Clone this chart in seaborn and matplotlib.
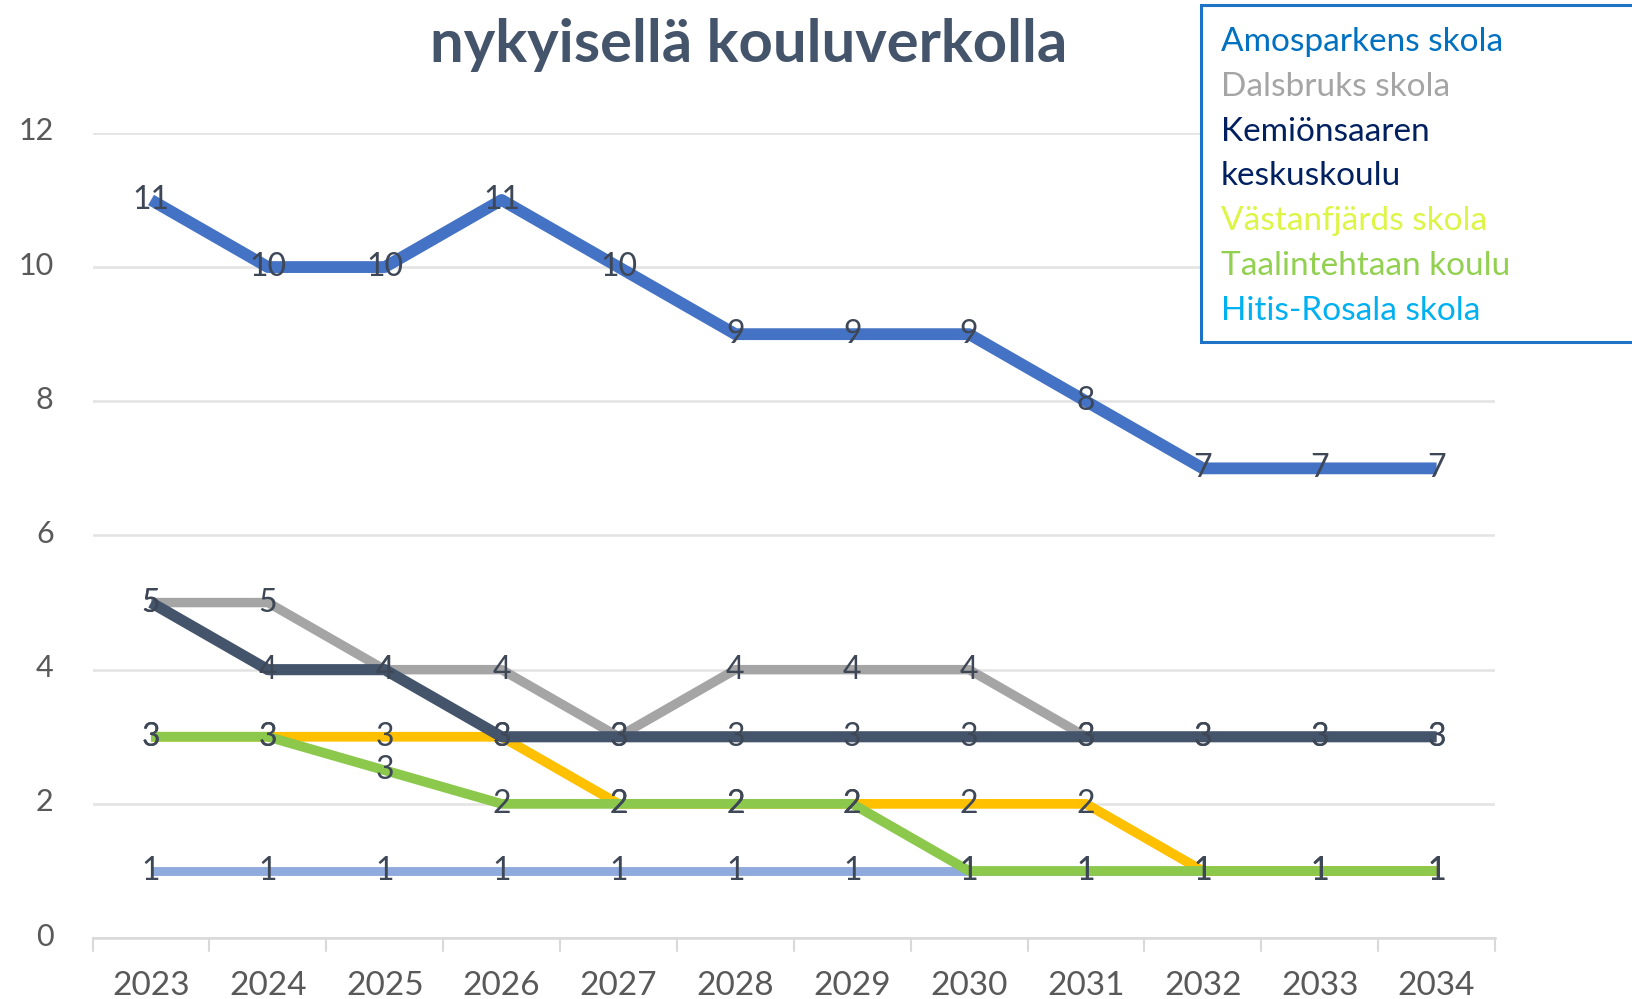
import matplotlib
matplotlib.use("Agg")
import matplotlib.pyplot as plt
from matplotlib.patches import Rectangle
from matplotlib.transforms import ScaledTranslation
import numpy as np
import pandas as pd
import seaborn as sns

years = [2023, 2024, 2025, 2026, 2027, 2028, 2029, 2030, 2031, 2032, 2033, 2034]

schools = [
    "Amosparkens skola",
    "Dalsbruks skola",
    "Kemiönsaaren\nkeskuskoulu",
    "Västanfjärds skola",
    "Taalintehtaan koulu",
    "Hitis-Rosala skola",
]

amosparkens = [11, 10, 10, 11, 10, 9, 9, 9, 8, 7, 7, 7]
dalsbruks = [5, 5, 4, 4, 3, 4, 4, 4, 3, 3, 3, 3]
kemionsaaren = [5, 4, 4, 3, 3, 3, 3, 3, 3, 3, 3, 3]
vastanfjards = [3, 3, 3, 3, 2, 2, 2, 2, 2, 1, 1, 1]
taalintehtaan = [3, 3, 2.5, 2, 2, 2, 2, 1, 1, 1, 1, 1]
hitis_rosala = [1, 1, 1, 1, 1, 1, 1, 1, 1, 1, 1, 1]

series = [amosparkens, dalsbruks, kemionsaaren, vastanfjards, taalintehtaan, hitis_rosala]

line_colors = ["#4472C4", "#A5A5A5", "#44546A", "#FFC000", "#8CC84B", "#8FAADC"]
legend_colors = ["#0070C0", "#A5A5A5", "#002060", "#DDF545", "#92D050", "#00B0F0"]
line_widths = [8.5, 6.8, 8.0, 7.0, 7.0, 6.4]
z_orders = [6, 3, 5, 2, 4, 1]

sns.set_theme(style="white")
plt.rcParams["font.family"] = ["Lato", "DejaVu Sans"]

fig = plt.figure(figsize=(16.33, 9.99), dpi=100)
ax = fig.add_axes([0.0567, 0.061, 0.8588, 0.806])

x_pos = np.arange(len(years))
for name, vals, col, lw, zo in zip(schools, series, line_colors, line_widths, z_orders):
    df = pd.DataFrame({"x": x_pos, "y": vals})
    sns.lineplot(data=df, x="x", y="y", color=col, linewidth=lw, ax=ax,
                 zorder=zo, solid_capstyle="butt", solid_joinstyle="round",
                 legend=False)

# value labels at each point, rounded half up
for vals in series:
    for xi, v in zip(x_pos, vals):
        ax.text(xi, v, f"{int(np.floor(v + 0.5))}", ha="center", va="center",
                fontsize=23, color="#3E4756", zorder=10)

ax.set_xlim(-0.5, len(years) - 0.5)
ax.set_ylim(0, 12)
ax.set_yticks(range(0, 13, 2))
ax.set_yticklabels([str(v) for v in range(0, 13, 2)], fontsize=22, color="#595959")
ax.set_xticks(x_pos)
ax.set_xticklabels([str(y) for y in years], fontsize=24, color="#595959")
ax.tick_params(axis="y", length=0, pad=28)
ax.tick_params(axis="x", length=0, pad=24)
lift = ScaledTranslation(0, 4 / 100, fig.dpi_scale_trans)
for lbl in ax.get_yticklabels():
    lbl.set_transform(lbl.get_transform() + lift)

# category boundary ticks under the baseline
for b in np.arange(-0.5, len(years), 1.0):
    ax.plot([b, b], [0, -0.2], color="#D9D9D9", linewidth=1.5, clip_on=False, zorder=0)

ax.set_xlabel("")
ax.set_ylabel("")
ax.grid(axis="y", color="#E3E3E3", linewidth=1.8)
ax.grid(axis="x", visible=False)
for side in ["left", "right", "top"]:
    ax.spines[side].set_visible(False)
ax.spines["bottom"].set_color("#D9D9D9")
ax.spines["bottom"].set_linewidth(1.8)

fig.text(0.4585, 0.955, "nykyisellä kouluverkolla", ha="center", va="center",
         fontsize=43, fontweight="bold", color="#44546A")

# legend box
W, H = 1633, 999
fig.patches.append(Rectangle((1201 / W, 1 - 342 / H), 0.5, (342 - 5) / H,
                             transform=fig.transFigure, fill=True, facecolor="white",
                             edgecolor="#1F73C6", linewidth=2.2, zorder=20))
line_idx = 0
for name, col in zip(schools, legend_colors):
    for part in name.split("\n"):
        y_px = 42 + 44.8 * line_idx
        fig.text(1221 / W, 1 - y_px / H, part, ha="left", va="center",
                 fontsize=24, color=col, zorder=21)
        line_idx += 1

fig.savefig("out.png", dpi=100)
